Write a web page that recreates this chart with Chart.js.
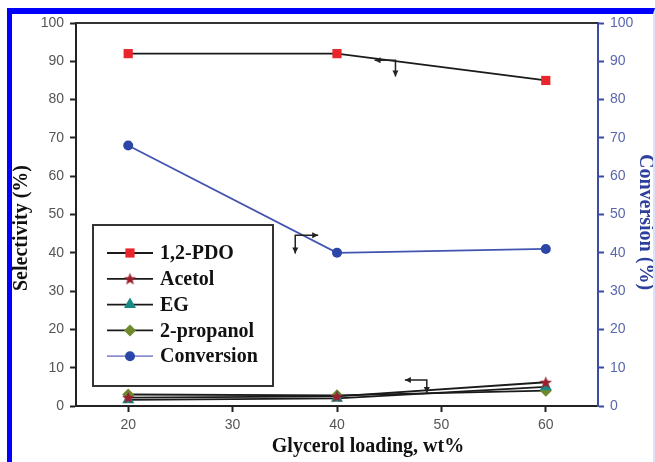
<!DOCTYPE html>
<html>
<head>
<meta charset="utf-8">
<script src="https://cdn.jsdelivr.net/npm/chart.js@4"></script>
<style>
  html, body { margin: 0; padding: 0; background: #fff; }
  #wrap { position: relative; width: 655px; height: 462px; }
  #frame {
    position: absolute; left: 7px; top: 8px; width: 648px; height: 454px;
    border-top: 6px solid #0000ff; border-left: 5px solid #0000ff;
    border-right: 2px solid #dfe2f6; box-sizing: border-box; pointer-events: none;
  }
</style>
</head>
<body>
<div id="wrap">
  <canvas id="chart-canvas" width="655" height="462"></canvas>
  <div id="frame"></div>
</div>
<script>
// glycerol loading, wt%
const loading = [20, 40, 60];
const xTicks = [20, 30, 40, 50, 60];

// selectivity (%)
const pdo = [92, 92, 85];
const acetol = [2.2, 2.5, 6.2];
const eg = [1.6, 2.0, 5.0];
const propanol = [3.0, 2.8, 4.0];
// conversion (%)
const conversion = [68, 40, 41];

// the little "which axis" arrows, in data units: corner, then horizontal end, then vertical end
const axisArrows = [
  { cx: 45.6, cy: 90.3, hx: 43.6, vy: 86.0 },
  { cx: 36.0, cy: 44.6, hx: 38.2, vy: 39.8 },
  { cx: 48.6, cy: 6.8, hx: 46.5, vy: 3.4 },
];

const toPoints = (vals) => loading.map((x, i) => ({ x: x, y: vals[i] }));

const makeStar = (color) => {
  const c = document.createElement("canvas");
  c.width = 13; c.height = 13;
  const g = c.getContext("2d");
  g.fillStyle = color;
  g.beginPath();
  for (let i = 0; i < 10; i++) {
    const r = i % 2 === 0 ? 6.5 : 2.8;
    const a = -Math.PI / 2 + (i * Math.PI) / 5;
    g.lineTo(6.5 + r * Math.cos(a), 7 + r * Math.sin(a));
  }
  g.closePath();
  g.fill();
  return c;
};
const star = makeStar("#9c1f2e");

const serif = '"Liberation Serif", "Times New Roman", serif';
const sans = '"Liberation Sans", Arial, sans-serif';

const drawArrowHead = (g, x, y, dir) => {
  const s = 4;
  g.beginPath();
  if (dir === "left") { g.moveTo(x, y); g.lineTo(x + s + 2, y - s + 1); g.lineTo(x + s + 2, y + s - 1); }
  if (dir === "right") { g.moveTo(x, y); g.lineTo(x - s - 2, y - s + 1); g.lineTo(x - s - 2, y + s - 1); }
  if (dir === "down") { g.moveTo(x, y); g.lineTo(x - s + 1, y - s - 2); g.lineTo(x + s - 1, y - s - 2); }
  g.closePath();
  g.fill();
};

const extras = {
  id: "extras",
  afterDraw(chart) {
    const g = chart.ctx;
    const a = chart.chartArea;
    const xs = chart.scales.x, ys = chart.scales.y;
    g.save();

    // top frame line
    g.strokeStyle = "#333";
    g.lineWidth = 2;
    g.beginPath();
    g.moveTo(a.left, a.top);
    g.lineTo(a.right, a.top);
    g.stroke();

    // axis arrows
    g.strokeStyle = "#222";
    g.fillStyle = "#222";
    g.lineWidth = 1.5;
    axisArrows.forEach((ar) => {
      const cx = xs.getPixelForValue(ar.cx), cy = ys.getPixelForValue(ar.cy);
      const hx = xs.getPixelForValue(ar.hx), vy = ys.getPixelForValue(ar.vy);
      g.beginPath();
      g.moveTo(hx, cy); g.lineTo(cx, cy); g.lineTo(cx, vy);
      g.stroke();
      drawArrowHead(g, hx, cy, hx < cx ? "left" : "right");
      drawArrowHead(g, cx, vy, "down");
    });

    // legend box
    const lx = 93, ly = 225, lw = 180, lh = 161;
    g.strokeStyle = "#333";
    g.lineWidth = 2;
    g.strokeRect(lx, ly, lw, lh);
    g.font = "bold 20px " + serif;
    g.textBaseline = "middle";
    g.textAlign = "left";
    chart.data.datasets.forEach((ds, i) => {
      const y = 253 + i * 25.8;
      g.strokeStyle = ds.legendLine;
      g.lineWidth = 1.8;
      g.beginPath();
      g.moveTo(107, y); g.lineTo(153, y);
      g.stroke();
      const st = ds.pointStyle;
      if (st instanceof HTMLCanvasElement) {
        g.drawImage(st, 130 - st.width / 2, y - st.height / 2);
      } else {
        g.fillStyle = ds.pointBackgroundColor;
        g.strokeStyle = ds.pointBackgroundColor;
        Chart.helpers.drawPoint(g, { pointStyle: st, radius: ds.pointRadius, borderWidth: 0, rotation: 0 }, 130, y);
      }
      g.fillStyle = "#111";
      g.fillText(ds.label, 160, y + 1);
    });

    // axis titles
    g.font = "bold 20px " + serif;
    g.textAlign = "center";
    g.fillStyle = "#111";
    g.fillText("Glycerol loading, wt%", 368, 447);
    g.save();
    g.translate(22, 228);
    g.rotate(-Math.PI / 2);
    g.fillText("Selectivity (%)", 0, 0);
    g.restore();
    g.save();
    g.translate(645, 222);
    g.rotate(Math.PI / 2);
    g.fillStyle = "#2d3f9c";
    g.fillText("Conversion (%)", 0, 0);
    g.restore();

    g.restore();
  },
};

const blackLine = (label, vals, style, color, radius) => ({
  label: label,
  data: toPoints(vals),
  yAxisID: "y",
  borderColor: "#1a1a1a",
  borderWidth: 1.8,
  pointStyle: style,
  pointRadius: radius,
  pointHoverRadius: radius,
  pointBackgroundColor: color,
  pointBorderColor: color,
  pointBorderWidth: 0,
  legendLine: "#1a1a1a",
  tension: 0,
});

let ctx = document.getElementById("chart-canvas");

let chart = new Chart(ctx, {
  type: "line",
  data: {
    datasets: [
      blackLine("1,2-PDO", pdo, "rect", "#e8262b", 6.5),
      blackLine("Acetol", acetol, star, "#9c1f2e", 6),
      blackLine("EG", eg, "triangle", "#1b8a86", 7),
      blackLine("2-propanol", propanol, "rectRot", "#6e8a2c", 6),
      {
        label: "Conversion",
        data: toPoints(conversion),
        yAxisID: "y1",
        borderColor: "#4254b0",
        borderWidth: 1.8,
        pointStyle: "circle",
        pointRadius: 5,
        pointHoverRadius: 5,
        pointBackgroundColor: "#2b45a8",
        pointBorderColor: "#2b45a8",
        pointBorderWidth: 0,
        legendLine: "#8c8fce",
        tension: 0,
      },
    ],
  },
  options: {
    responsive: false,
    animation: false,
    events: [],
    layout: { padding: { top: 23, left: 0, right: 0, bottom: 0 } },
    plugins: { legend: { display: false }, tooltip: { enabled: false } },
    scales: {
      x: {
        type: "linear",
        min: 15,
        max: 65,
        afterBuildTicks: (s) => { s.ticks = xTicks.map((v) => ({ value: v })); },
        afterFit: (s) => { s.height = 56; },
        ticks: { color: "#555", font: { family: sans, size: 14 }, padding: 5, maxRotation: 0 },
        grid: { drawOnChartArea: false, tickLength: 6, tickWidth: 2, tickColor: "#222" },
        border: { color: "#222", width: 2 },
      },
      y: {
        position: "left",
        min: 0,
        max: 100,
        ticks: { stepSize: 10, color: "#555", font: { family: sans, size: 14 }, padding: 6 },
        afterFit: (s) => { s.width = 76; },
        grid: { drawOnChartArea: false, tickLength: 6, tickWidth: 2, tickColor: "#222" },
        border: { color: "#222", width: 2 },
      },
      y1: {
        position: "right",
        min: 0,
        max: 100,
        ticks: { stepSize: 10, color: "#5a67ad", font: { family: sans, size: 14 }, padding: 6 },
        afterFit: (s) => { s.width = 57; },
        grid: { drawOnChartArea: false, tickLength: 6, tickWidth: 2, tickColor: "#3a4ca6" },
        border: { color: "#3a4ca6", width: 2 },
      },
    },
  },
  plugins: [extras],
});
</script>
</body>
</html>
